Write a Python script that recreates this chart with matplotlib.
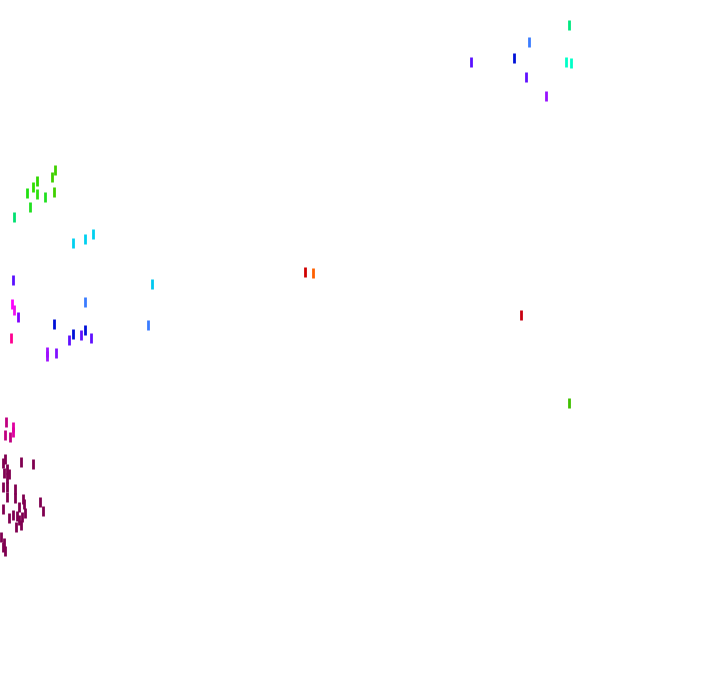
import matplotlib
matplotlib.use("Agg")
import matplotlib.pyplot as plt

# point positions (pixel-like coordinates of the canvas) and colours
x = [569, 529, 471, 514, 566, 571, 526, 546,
     55, 52, 37, 33, 27, 37, 45, 54, 30, 14,
     73, 85, 93, 152,
     13, 85, 148, 12, 14, 18, 54, 85, 73, 69, 81, 91, 11, 47, 47, 56,
     305, 313, 521, 569,
     6, 13, 13, 5, 10,
     5, 3, 21, 33, 7, 4, 9, 7, 3, 7, 15, 7, 15, 23, 24, 40, 19, 3, 43, 25,
     13, 17, 22, 9, 19, 16, 21, 1, 4, 3, 5]
y = [25, 42, 62, 58, 62, 63, 77, 96,
     170, 177, 181, 187, 193, 194, 197, 192, 207, 217,
     243, 239, 234, 284,
     280, 302, 325, 304, 310, 317, 324, 330, 334, 340, 335, 338, 338, 352, 356, 353,
     272, 273, 315, 403,
     422, 427, 432, 435, 437,
     459, 463, 462, 464, 469, 473, 474, 478, 487, 487, 489, 497, 498, 499, 504, 502, 507, 509, 511, 513,
     515, 516, 517, 518, 520, 527, 525, 537, 543, 547, 551]
colors = (["#00e880", "#3a7cff", "#5a10ff", "#0010d8", "#00ffc8", "#00ffc8", "#6010ff", "#9810ff"]
          + ["#40d000", "#40d000", "#30d800", "#30e000", "#20e010", "#30e010", "#20e020", "#40d000", "#20e020", "#00e070"]
          + ["#00d0f0", "#00d0f0", "#00d0f0", "#00c8f0"]
          + ["#5a10ff", "#3a7cff", "#3a7cff", "#ff00ff", "#f010f0", "#8000ff", "#0010d8", "#0010d8", "#0010d8",
             "#6010ff", "#6010ff", "#6010ff", "#ff0090", "#a010ff", "#a010ff", "#8010ff"]
          + ["#d00000", "#ff6000", "#c80010", "#40c000"]
          + ["#c00080", "#e000a0", "#e000a0", "#c00080", "#c00080"]
          + ["#800050"] * 20
          + ["#800050"] * 11)

fig = plt.figure(figsize=(7.2, 6.92), dpi=100)
ax = fig.add_axes([0, 0, 1, 1])
ax.scatter(x, y, c=colors, marker="|", s=45, linewidths=2.0)
ax.set_xlim(0, 720)
ax.set_ylim(692, 0)
ax.axis("off")
fig.savefig("out.png", dpi=100)
